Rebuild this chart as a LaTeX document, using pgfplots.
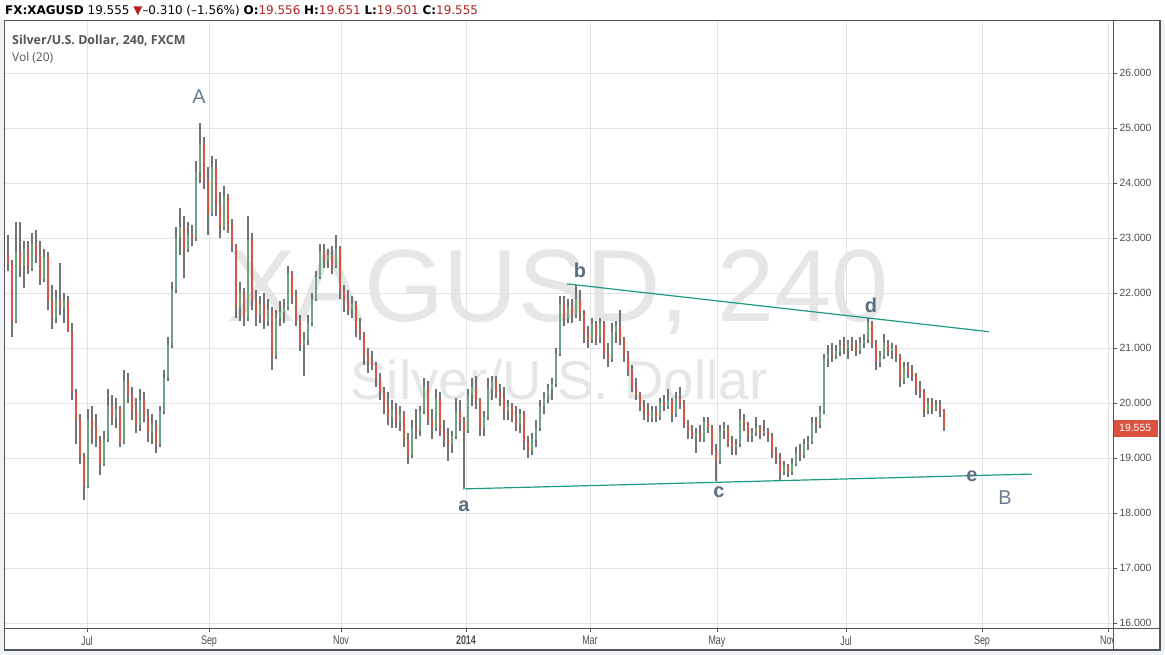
\documentclass[border=0pt]{standalone}
\usepackage{pgfplots}
\pgfplotsset{compat=1.18}
\usepackage{pgfplotstable}
\usepackage{fontspec}
\setmainfont{Liberation Sans}
\newfontfamily\hdrfont{DejaVu Sans}
\newfontfamily\titlefont{Open Sans}
\newfontfamily\narrowfont[FakeStretch=0.72]{Liberation Sans}

\definecolor{upc}{HTML}{6BA583}
\definecolor{dnc}{HTML}{D75442}
\definecolor{wickc}{HTML}{737373}
\definecolor{gridc}{HTML}{E3E3E3}
\definecolor{wmark}{HTML}{E6E6E6}
\definecolor{trend}{HTML}{1E9A84}
\definecolor{lblc}{HTML}{5A6E85}
\definecolor{lblA}{HTML}{6B7C90}
\definecolor{tickc}{HTML}{4D4D4D}
\definecolor{framec}{HTML}{555555}
\definecolor{outerbg}{HTML}{EEF1F5}
\definecolor{tagc}{HTML}{DC5140}
\definecolor{hdrred}{HTML}{B22222}

% 4h candles of XAGUSD, x = position along the time axis
\pgfplotstableread{
x o h l c
8 22.70 23.05 22.40 22.55
12 22.55 22.60 21.20 21.50
16 21.50 23.30 21.45 22.75
20 22.75 23.30 22.30 22.50
24 22.50 22.95 22.10 22.80
28 22.80 22.95 22.35 22.45
32 22.45 23.10 22.40 22.90
36 22.90 23.15 22.55 22.70
40 22.70 22.95 22.15 22.25
44 22.25 22.80 22.20 22.65
48 22.65 22.75 21.70 21.85
52 21.85 22.15 21.35 21.55
56 21.55 22.05 21.45 21.90
60 21.90 22.55 21.60 21.75
64 21.75 22.00 21.45 21.85
68 21.85 21.95 21.30 21.30
72 21.30 21.45 20.05 20.20
76 20.20 20.25 19.25 19.70
80 19.70 19.80 18.90 19.05
84 19.05 19.10 18.24 18.50
88 18.50 19.90 18.45 19.70
92 19.70 19.95 19.25 19.55
96 19.55 19.80 19.20 19.35
100 19.35 19.40 18.70 18.90
104 18.90 19.50 18.85 19.35
108 19.35 20.25 19.30 19.95
112 19.95 20.15 19.60 19.75
116 19.75 20.10 19.55 19.90
120 19.90 19.95 19.20 19.30
124 19.30 20.60 19.25 20.40
128 20.40 20.55 20.00 20.15
132 20.15 20.30 19.70 19.85
136 19.85 20.10 19.45 19.60
140 19.60 20.25 19.50 20.05
144 20.05 20.20 19.65 19.75
148 19.75 19.90 19.30 19.45
152 19.45 19.80 19.25 19.60
156 19.60 19.70 19.10 19.25
160 19.25 19.95 19.20 19.85
164 19.85 20.60 19.80 20.45
168 20.45 21.20 20.40 21.05
172 21.05 22.20 21.00 22.05
176 22.05 23.20 22.00 23.00
180 23.00 23.55 22.70 23.20
184 23.20 23.40 22.27 22.80
188 22.80 23.30 22.75 23.05
192 23.05 23.25 22.85 23.00
196 23.00 24.40 22.95 24.20
200 24.20 25.09 24.00 24.70
204 24.70 24.85 23.90 24.05
208 24.05 24.30 23.05 23.45
212 23.45 24.50 23.40 24.30
216 24.30 24.45 23.40 23.60
220 23.60 23.85 23.00 23.20
224 23.20 23.95 23.15 23.75
228 23.75 23.80 23.10 23.25
232 23.25 23.35 22.75 22.85
236 22.85 22.90 21.55 21.75
240 21.75 22.20 21.50 22.00
244 22.00 22.10 21.40 21.55
248 21.55 23.40 21.50 22.95
252 22.95 23.10 21.70 21.85
256 21.85 22.05 21.40 21.60
260 21.60 21.95 21.45 21.80
264 21.80 22.00 21.35 21.50
268 21.50 21.90 21.40 21.70
272 21.70 21.75 20.60 20.85
276 20.85 21.70 20.80 21.55
280 21.55 21.85 21.40 21.65
284 21.65 21.90 21.45 21.75
288 21.75 22.50 21.70 22.35
292 22.35 22.40 21.80 21.95
296 21.95 22.05 21.40 21.50
300 21.50 21.60 20.95 21.05
304 21.05 21.30 20.50 21.15
308 21.15 21.60 21.05 21.45
312 21.45 22.00 21.40 21.90
316 21.90 22.40 21.85 22.30
320 22.30 22.90 22.25 22.75
324 22.75 22.90 22.45 22.60
328 22.60 22.80 22.45 22.70
332 22.70 22.85 22.35 22.50
336 22.50 23.06 22.45 22.80
340 22.80 22.85 21.90 22.05
344 22.05 22.15 21.65 21.85
348 21.85 22.05 21.60 21.70
352 21.70 21.95 21.55 21.80
356 21.80 21.85 21.20 21.35
360 21.35 21.55 21.15 21.25
364 21.25 21.30 20.70 20.85
368 20.85 21.00 20.55 20.75
372 20.75 20.95 20.60 20.70
376 20.70 20.75 20.30 20.45
380 20.45 20.55 20.05 20.20
384 20.20 20.30 19.80 19.95
388 19.95 20.20 19.60 19.75
392 19.75 20.05 19.55 19.90
396 19.90 20.00 19.55 19.65
400 19.65 19.95 19.50 19.80
404 19.80 19.85 19.20 19.35
408 19.35 19.45 18.90 19.05
412 19.05 19.70 19.00 19.55
416 19.55 19.90 19.35 19.50
420 19.50 19.95 19.40 19.85
424 19.85 20.45 19.80 20.30
428 20.30 20.40 19.60 19.70
432 19.70 19.90 19.35 19.55
436 19.55 20.25 19.50 20.10
440 20.10 20.20 19.40 19.50
444 19.50 19.70 19.20 19.35
448 19.35 19.55 18.95 19.25
452 19.25 19.50 19.10 19.40
456 19.40 20.10 19.35 19.85
460 19.85 20.05 19.50 19.65
464 19.65 19.75 18.46 19.50
468 19.50 20.25 19.45 20.15
472 20.15 20.45 19.95 20.30
476 20.30 20.50 19.90 20.05
480 20.05 20.10 19.40 19.55
484 19.55 19.85 19.40 19.75
488 19.75 20.45 19.70 20.25
492 20.25 20.50 20.05 20.40
496 20.40 20.50 20.10 20.20
500 20.20 20.35 19.95 20.10
504 20.10 20.30 19.70 19.85
508 19.85 20.05 19.70 19.95
512 19.95 20.00 19.65 19.75
516 19.75 19.95 19.50 19.60
520 19.60 19.90 19.45 19.80
524 19.80 19.85 19.15 19.30
528 19.30 19.40 19.00 19.15
532 19.15 19.45 19.05 19.35
536 19.35 19.70 19.20 19.55
540 19.55 20.05 19.50 19.95
544 19.95 20.20 19.80 20.10
548 20.10 20.35 20.00 20.25
552 20.25 20.45 20.05 20.35
556 20.35 21.00 20.30 20.90
560 20.90 21.95 20.85 21.80
564 21.80 21.95 21.40 21.55
568 21.55 21.90 21.45 21.75
572 21.75 21.90 21.45 21.60
576 21.60 22.15 21.55 21.90
580 21.90 22.05 21.50 21.65
584 21.65 21.70 21.10 21.25
588 21.25 21.40 21.00 21.15
592 21.15 21.55 21.10 21.45
596 21.45 21.50 21.05 21.20
600 21.20 21.55 21.10 21.45
604 21.45 21.50 20.80 20.90
608 20.90 21.10 20.65 20.80
612 20.80 21.45 20.75 21.30
616 21.30 21.50 21.10 21.40
620 21.40 21.70 21.05 21.15
624 21.15 21.20 20.75 20.90
628 20.90 20.95 20.50 20.60
632 20.60 20.70 20.20 20.30
636 20.30 20.45 20.05 20.15
640 20.15 20.20 19.85 19.95
644 19.95 20.05 19.70 19.85
648 19.85 20.00 19.65 19.75
652 19.75 19.95 19.65 19.85
656 19.85 19.95 19.65 19.75
660 19.75 20.10 19.70 20.00
664 20.00 20.15 19.85 19.95
668 19.95 20.25 19.90 20.05
672 20.05 20.10 19.65 19.80
676 19.80 20.20 19.75 20.10
680 20.10 20.30 19.90 20.00
684 20.00 20.05 19.55 19.60
688 19.60 19.70 19.35 19.50
692 19.50 19.60 19.35 19.40
696 19.40 19.55 19.10 19.45
700 19.45 19.60 19.30 19.35
704 19.35 19.75 19.30 19.65
708 19.65 19.75 19.45 19.55
712 19.55 19.60 19.05 19.15
716 19.15 19.25 18.58 18.95
720 18.95 19.60 18.90 19.50
724 19.50 19.65 19.35 19.55
728 19.55 19.60 19.20 19.30
732 19.30 19.40 19.05 19.20
736 19.20 19.35 19.05 19.25
740 19.25 19.90 19.20 19.70
744 19.70 19.80 19.50 19.60
748 19.60 19.65 19.30 19.40
752 19.40 19.55 19.30 19.45
756 19.45 19.75 19.40 19.55
760 19.55 19.60 19.35 19.45
764 19.45 19.70 19.40 19.50
768 19.50 19.55 19.30 19.40
772 19.40 19.45 19.00 19.10
776 19.10 19.20 18.90 19.00
780 19.00 19.10 18.60 18.75
784 18.75 18.95 18.70 18.85
788 18.85 18.90 18.65 18.75
792 18.75 19.00 18.70 18.90
796 18.90 19.20 18.85 19.10
800 19.10 19.25 18.95 19.05
804 19.05 19.35 19.00 19.25
808 19.25 19.40 19.15 19.30
812 19.30 19.75 19.25 19.65
816 19.65 19.75 19.45 19.60
820 19.60 19.95 19.55 19.85
824 19.85 20.90 19.80 20.80
828 20.80 21.05 20.65 20.90
832 20.90 21.10 20.75 20.85
836 20.85 21.05 20.80 20.95
840 20.95 21.15 20.85 21.05
844 21.05 21.20 20.90 21.00
848 21.00 21.15 20.80 21.10
852 21.10 21.20 20.95 21.05
856 21.05 21.15 20.85 20.95
860 20.95 21.20 20.90 21.10
864 21.10 21.25 21.00 21.15
868 21.15 21.55 21.10 21.45
872 21.45 21.50 21.00 21.10
876 21.10 21.15 20.60 20.75
880 20.75 20.95 20.65 20.85
884 20.85 21.25 20.80 21.10
888 21.10 21.15 20.85 20.95
892 20.95 21.10 20.80 21.00
896 21.00 21.05 20.75 20.85
900 20.85 20.90 20.30 20.40
904 20.40 20.75 20.35 20.65
908 20.65 20.75 20.45 20.55
912 20.55 20.70 20.40 20.50
916 20.50 20.55 20.15 20.25
920 20.25 20.40 20.10 20.20
924 20.20 20.25 19.75 19.85
928 19.85 20.10 19.80 20.00
932 20.00 20.10 19.80 19.90
936 19.90 20.05 19.85 19.95
940 19.95 20.05 19.75 19.85
944 19.85 19.90 19.50 19.56
}\candles

\begin{document}
\begin{tikzpicture}
% backgrounds and watermark, in pixel units (y downwards)
\begin{scope}[x=1bp,y=-1bp]
\fill[outerbg] (0,0) rectangle (1165,655);
\fill[white] (0,0) rectangle (1165,20);
\fill[white] (4,20) rectangle (1160,650);
\node[text=wmark, font=\fontsize{103}{110}\selectfont] at (558,292) {XAGUSD, 240};
\node[text=wmark, font=\fontsize{55}{60}\selectfont] at (559,380) {Silver/U.S. Dollar};
\end{scope}

\begin{axis}[
    at={(5bp,-628bp)}, anchor=south west,
    width=1108bp, height=608bp, scale only axis,
    xmin=5, xmax=1113, ymin=15.91, ymax=26.97,
    axis line style={draw=none},
    xtick={87,209,341,466,590,717,846,982,1108},
    xticklabels={Jul,Sep,Nov,\textbf{2014},Mar,May,Jul,Sep,Nov},
    ytick={16,17,...,26},
    ytick pos=right, xtick pos=bottom,
    tick align=outside, major tick length=4bp,
    tick style={draw=framec, line width=0.8bp},
    grid=major, grid style={draw=gridc, line width=1bp},
    yticklabel style={font=\fontsize{10.5}{12}\selectfont, text=tickc, anchor=west, xshift=-1bp,
        /pgf/number format/.cd, fixed, fixed zerofill, precision=3, assume math mode=true},
    xticklabel style={font=\narrowfont\fontsize{12.5}{13}\selectfont, text=tickc, yshift=-0.5bp},
    clip=false,
]
% wicks: segments from low to high
\addplot[draw=wickc, line width=1.4bp, mark=none, -,
    quiver={u=0, v=\thisrow{h}-\thisrow{l}}]
    table[x=x, y=l] {\candles};
% rising bodies
\addplot[draw=upc, line width=2.6bp, mark=none, -,
    x filter/.expression={\thisrow{c}>=\thisrow{o} ? x : nan},
    quiver={u=0, v=\thisrow{c}-\thisrow{o}}]
    table[x=x, y=o] {\candles};
% falling bodies
\addplot[draw=dnc, line width=2.6bp, mark=none, -,
    x filter/.expression={\thisrow{c}<\thisrow{o} ? x : nan},
    quiver={u=0, v=\thisrow{o}-\thisrow{c}}]
    table[x=x, y=c] {\candles};
% triangle lines
\addplot[trend, line width=1.2bp, mark=none] coordinates {(567,22.17) (989,21.30)};
\addplot[trend, line width=1.2bp, mark=none] coordinates {(463,18.44) (1032,18.71)};
\end{axis}

\begin{scope}[x=1bp,y=-1bp]
\fill[white] (1114,629) rectangle (1159.5,649.5);
\draw[framec, line width=1bp] (1113.5,20) -- (1113.5,650);
\draw[framec, line width=1bp] (4,628.5) -- (1160,628.5);
\draw[framec, line width=1.5bp] (4.5,20.5) rectangle (1160,650);
% last price tag
\fill[tagc] (1114,419.5) rectangle (1158,436.5);
\node[text=white, font=\fontsize{10.5}{12}\selectfont, anchor=west, inner sep=0pt] at (1119,428) {19.555};
% header
\node[anchor=base west, inner sep=0pt, font=\hdrfont\fontsize{12}{13}\selectfont] at (5,14)
  {\textbf{FX:XAGUSD} 19.555 \textcolor{hdrred}{▼}–0.310 (–1.56\%) \textbf{O:}\textcolor{hdrred}{19.556} \textbf{H:}\textcolor{hdrred}{19.651} \textbf{L:}\textcolor{hdrred}{19.501} \textbf{C:}\textcolor{hdrred}{19.555}};
\node[anchor=base west, inner sep=0pt, text=framec, font=\titlefont\bfseries\fontsize{12.5}{13}\selectfont] at (12,44) {Silver/U.S. Dollar, 240, FXCM};
\node[anchor=base west, inner sep=0pt, text=framec, font=\titlefont\fontsize{12}{13}\selectfont] at (12,61) {Vol (20)};
% wave labels
\node[text=lblA, font=\fontsize{20}{22}\selectfont] at (199,97) {A};
\node[text=lblA, font=\fontsize{20}{22}\selectfont] at (1005,498) {B};
\node[text=lblc, font=\bfseries\fontsize{20}{22}\selectfont] at (464,506) {a};
\node[text=lblc, font=\bfseries\fontsize{20}{22}\selectfont] at (580,270) {b};
\node[text=lblc, font=\bfseries\fontsize{20}{22}\selectfont] at (719,492) {c};
\node[text=lblc, font=\bfseries\fontsize{20}{22}\selectfont] at (871,305) {d};
\node[text=lblc, font=\bfseries\fontsize{20}{22}\selectfont] at (972,476) {e};
\end{scope}
\pgfresetboundingbox
\useasboundingbox (0,0) rectangle (1165bp,-655bp);
\end{tikzpicture}
\end{document}
